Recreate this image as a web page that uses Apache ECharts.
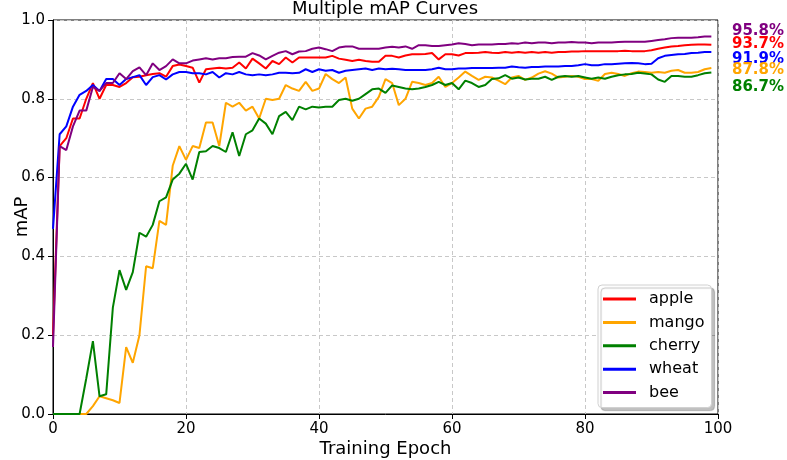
<!DOCTYPE html>
<html>
<head>
<meta charset="utf-8">
<script src="https://cdn.jsdelivr.net/npm/echarts@6/dist/echarts.min.js"></script>
<style>
  html, body { margin: 0; padding: 0; background: #fff; }
  #chart { width: 787px; height: 460px; }
</style>
</head>
<body>
<div id="chart"></div>
<script>
// epochs 0..99
const epochs = Array.from({length: 100}, (_, i) => i);

const apple = [
    0.20, 0.68, 0.70, 0.75, 0.75, 0.80, 0.84, 0.80, 0.835, 0.835,
    0.83, 0.84, 0.855, 0.856, 0.86, 0.863, 0.865, 0.856, 0.883, 0.887,
    0.883, 0.879, 0.841, 0.875, 0.877, 0.879, 0.877, 0.879, 0.892, 0.877,
    0.902, 0.890, 0.877, 0.896, 0.888, 0.905, 0.892, 0.905, 0.905, 0.905,
    0.905, 0.905, 0.909, 0.902, 0.899, 0.896, 0.899, 0.896, 0.894, 0.894,
    0.909, 0.909, 0.905, 0.910, 0.913, 0.913, 0.914, 0.916, 0.900, 0.913,
    0.913, 0.910, 0.916, 0.916, 0.917, 0.919, 0.917, 0.916, 0.919, 0.917,
    0.919, 0.917, 0.919, 0.917, 0.919, 0.917, 0.919, 0.919, 0.920, 0.920,
    0.921, 0.921, 0.921, 0.921, 0.921, 0.921, 0.922, 0.921, 0.921, 0.921,
    0.923, 0.927, 0.930, 0.933, 0.934, 0.936, 0.937, 0.938, 0.938, 0.937
];
const mango = [
    0, 0, 0, 0, 0, 0, 0.02, 0.045, 0.04, 0.035,
    0.028, 0.17, 0.13, 0.20, 0.375, 0.37, 0.49, 0.48, 0.63, 0.68,
    0.645, 0.68, 0.675, 0.74, 0.74, 0.68, 0.79, 0.78, 0.79, 0.77,
    0.78, 0.75, 0.80, 0.797, 0.80, 0.835, 0.826, 0.82, 0.843, 0.82,
    0.826, 0.863, 0.85, 0.84, 0.854, 0.775, 0.75, 0.775, 0.78, 0.805,
    0.85, 0.84, 0.784, 0.80, 0.843, 0.84, 0.835, 0.84, 0.856, 0.83,
    0.84, 0.854, 0.869, 0.858, 0.848, 0.856, 0.854, 0.846, 0.837, 0.854,
    0.858, 0.848, 0.854, 0.864, 0.87, 0.864, 0.854, 0.856, 0.858, 0.856,
    0.85, 0.85, 0.846, 0.863, 0.866, 0.863, 0.858, 0.865, 0.869, 0.868,
    0.866, 0.868, 0.866, 0.871, 0.873, 0.866, 0.866, 0.868, 0.875, 0.878
];
const cherry = [
    0, 0, 0, 0, 0, 0.09, 0.185, 0.045, 0.05, 0.27,
    0.365, 0.315, 0.36, 0.46, 0.45, 0.48, 0.54, 0.55, 0.595, 0.61,
    0.635, 0.595, 0.665, 0.667, 0.68, 0.675, 0.665, 0.715, 0.655, 0.71,
    0.72, 0.75, 0.737, 0.71, 0.756, 0.767, 0.746, 0.78, 0.773, 0.78,
    0.778, 0.78, 0.78, 0.797, 0.80, 0.795, 0.80, 0.812, 0.824, 0.826,
    0.815, 0.834, 0.83, 0.826, 0.824, 0.826, 0.83, 0.835, 0.843, 0.835,
    0.84, 0.824, 0.846, 0.84, 0.83, 0.835, 0.85, 0.852, 0.86, 0.851,
    0.854, 0.849, 0.851, 0.851, 0.856, 0.848, 0.856, 0.858, 0.856, 0.858,
    0.854, 0.851, 0.854, 0.851, 0.856, 0.860, 0.862, 0.863, 0.866, 0.864,
    0.862, 0.849, 0.843, 0.858, 0.858, 0.856, 0.856, 0.860, 0.865, 0.867
];
const wheat = [
    0.47, 0.71, 0.73, 0.78, 0.81, 0.82, 0.835, 0.82, 0.85, 0.85,
    0.835, 0.85, 0.855, 0.86, 0.835, 0.855, 0.860, 0.849, 0.862, 0.868,
    0.868, 0.865, 0.865, 0.862, 0.868, 0.854, 0.865, 0.862, 0.868, 0.862,
    0.860, 0.862, 0.860, 0.862, 0.866, 0.866, 0.865, 0.866, 0.875, 0.868,
    0.875, 0.871, 0.873, 0.866, 0.871, 0.873, 0.875, 0.877, 0.873, 0.877,
    0.875, 0.876, 0.875, 0.873, 0.873, 0.873, 0.873, 0.875, 0.879, 0.875,
    0.875, 0.877, 0.877, 0.878, 0.878, 0.878, 0.878, 0.879, 0.879, 0.882,
    0.880, 0.879, 0.881, 0.881, 0.882, 0.882, 0.882, 0.883, 0.883, 0.885,
    0.888, 0.885, 0.885, 0.888, 0.888, 0.889, 0.890, 0.891, 0.890, 0.888,
    0.889, 0.903, 0.909, 0.911, 0.913, 0.914, 0.916, 0.917, 0.919, 0.919
];
const bee = [
    0.17, 0.68, 0.67, 0.73, 0.77, 0.77, 0.83, 0.82, 0.84, 0.84,
    0.865, 0.85, 0.87, 0.88, 0.86, 0.89, 0.873, 0.883, 0.90, 0.89,
    0.89, 0.897, 0.90, 0.903, 0.90, 0.903, 0.903, 0.906, 0.907, 0.907,
    0.916, 0.910, 0.900, 0.909, 0.917, 0.921, 0.913, 0.920, 0.921, 0.927,
    0.930, 0.926, 0.921, 0.930, 0.933, 0.933, 0.927, 0.927, 0.927, 0.927,
    0.930, 0.932, 0.930, 0.933, 0.927, 0.936, 0.936, 0.934, 0.934, 0.936,
    0.938, 0.941, 0.939, 0.936, 0.938, 0.938, 0.938, 0.939, 0.939, 0.941,
    0.940, 0.943, 0.941, 0.943, 0.943, 0.941, 0.943, 0.943, 0.944, 0.943,
    0.943, 0.941, 0.943, 0.943, 0.943, 0.944, 0.945, 0.945, 0.945, 0.945,
    0.947, 0.949, 0.951, 0.954, 0.955, 0.955, 0.955, 0.956, 0.958, 0.958
];

const names = ['apple', 'mango', 'cherry', 'wheat', 'bee'];
const colors = ['#ff0000', '#ffa500', '#008000', '#0000ff', '#800080'];
const values = [apple, mango, cherry, wheat, bee];

// final-value labels on the right, top to bottom
const endOrder = ['bee', 'apple', 'wheat', 'mango', 'cherry'];
const endY = [32, 45, 60, 71, 88];

const font = 'DejaVu Sans';
let myChart = echarts.init(document.getElementById('chart'));

let series = names.map((n, i) => ({
    name: n,
    type: 'line',
    showSymbol: false,
    symbol: 'none',
    lineStyle: {color: colors[i], width: 2},
    itemStyle: {color: colors[i]},
    data: values[i].map((v, k) => [epochs[k], v])
}));

let graphics = endOrder.map((n, j) => {
    let i = names.indexOf(n);
    let last = values[i][values[i].length - 1];
    return {
        type: 'text',
        left: 732,
        top: endY[j] - 8,
        style: {
            text: (last * 100).toFixed(1) + '%',
            fill: colors[i],
            font: 'bold 15px "DejaVu Sans"'
        }
    };
});

myChart.setOption({
    animation: false,
    color: colors,
    title: {
        text: 'Multiple mAP Curves',
        left: 385,
        textAlign: 'center',
        top: 0,
        padding: 0,
        textStyle: {fontFamily: font, fontSize: 18, fontWeight: 'normal', color: '#000'}
    },
    grid: {
        left: 53,
        right: 69,
        top: 20,
        bottom: 46,
        outerBoundsMode: 'none',
        containLabel: false,
        show: true,
        borderColor: '#000',
        borderWidth: 1,
        backgroundColor: 'transparent'
    },
    legend: {
        orient: 'vertical',
        left: 598,
        top: 285,
        padding: [5, 7, 6, 5],
        itemGap: 5.4,
        itemWidth: 33,
        itemHeight: 3,
        icon: 'rect',
        backgroundColor: '#fff',
        borderColor: '#d0d0d0',
        borderWidth: 1,
        borderRadius: 4,
        shadowColor: 'rgba(0,0,0,0.25)',
        shadowOffsetX: 3,
        shadowOffsetY: 3,
        shadowBlur: 1,
        textStyle: {fontFamily: font, fontSize: 16, color: '#000', lineHeight: 18, padding: [0, 0, 0, 8]},
        data: names
    },
    xAxis: {
        type: 'value',
        min: 0,
        max: 100,
        interval: 20,
        name: 'Training Epoch',
        nameLocation: 'middle',
        nameGap: 26,
        nameMoveOverlap: false,
        nameTextStyle: {fontFamily: font, fontSize: 18, color: '#000'},
        axisLine: {show: true, lineStyle: {color: '#000', width: 1}},
        axisTick: {show: true, inside: false, length: 5, lineStyle: {color: '#000'}},
        axisLabel: {fontFamily: font, fontSize: 15, color: '#000', margin: 8},
        splitLine: {show: true, lineStyle: {color: '#c8c8c8', type: [4, 3], width: 1}}
    },
    yAxis: {
        type: 'value',
        min: 0,
        max: 1,
        interval: 0.2,
        name: 'mAP',
        nameLocation: 'middle',
        nameGap: 22,
        nameRotate: 90,
        nameMoveOverlap: false,
        nameTextStyle: {fontFamily: font, fontSize: 18, color: '#000'},
        axisLine: {show: true, lineStyle: {color: '#000', width: 1}},
        axisTick: {show: true, inside: false, length: 5, lineStyle: {color: '#000'}},
        axisLabel: {
            fontFamily: font, fontSize: 15, color: '#000', margin: 8,
            formatter: v => v.toFixed(1)
        },
        splitLine: {show: true, lineStyle: {color: '#c8c8c8', type: [4, 3], width: 1}}
    },
    graphic: graphics,
    series: series
});
</script>
</body>
</html>
